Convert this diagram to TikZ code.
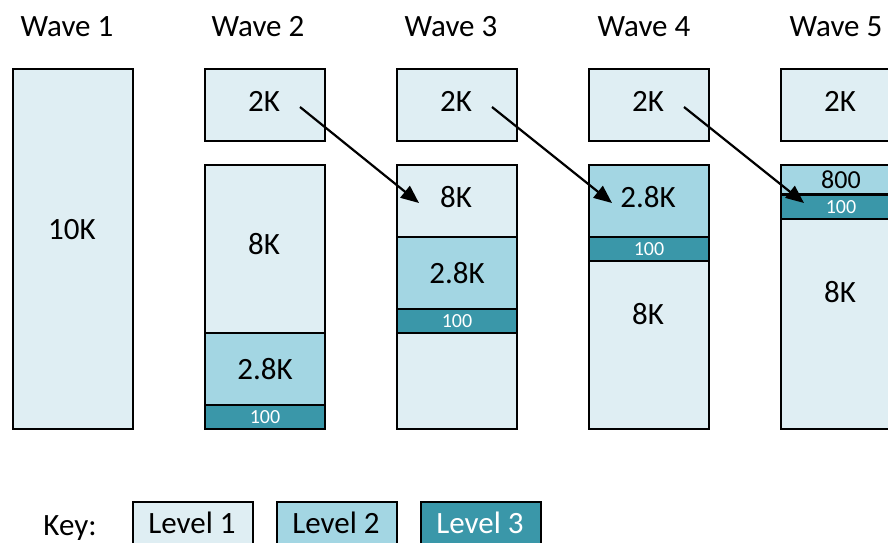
\documentclass[tikz,border=0pt]{standalone}
\usepackage{fontspec}
\setmainfont{Carlito}
\usetikzlibrary{arrows.meta}
\definecolor{lvA}{HTML}{DFEEF3}
\definecolor{lvB}{HTML}{A3D6E3}
\definecolor{lvC}{HTML}{3A97A9}
\begin{document}
\begin{tikzpicture}[x=1pt,y=-1pt,
  cell/.style={draw=black,line width=2pt,rectangle,inner sep=0pt,minimum width=120pt,anchor=north west,font=\fontsize{31}{36}\selectfont},
  big/.style={font=\fontsize{31}{36}\selectfont,inner sep=0pt},
  small/.style={font=\fontsize{20}{24}\selectfont,text=white},
  mid/.style={font=\fontsize{26}{30}\selectfont},
  arr/.style={line width=2.2pt,-{Triangle[length=18pt,width=15pt]}}]
\useasboundingbox (0,0) rectangle (888,542);
% titles
\node[big,anchor=base] (t1) at (67,36) {Wave 1};
\node[big,anchor=base] (t2) at (258,36) {Wave 2};
\node[big,anchor=base] (t3) at (451,36) {Wave 3};
\node[big,anchor=base] (t4) at (644,36) {Wave 4};
\node[big,anchor=base] (t5) at (836,36) {Wave 5};
% wave 1
\node[cell,fill=lvA,minimum height=360pt] (w1) at (12,68) {};
\node[big] (w1l) at (72,230) {10K};
% wave 2
\node[cell,fill=lvA,minimum height=72pt] (w2top) at (204,68) {};
\node[big] (w2topl) at (264,101) {2K};
\node[cell,fill=lvA,minimum height=168pt] (w2a) at (204,164) {};
\node[big] (w2al) at (264,244) {8K};
\node[cell,fill=lvB,minimum height=72pt] (w2b) at (204,332) {2.8K};
\node[cell,fill=lvC,minimum height=24pt,small] (w2c) at (204,404) {100};
% wave 3
\node[cell,fill=lvA,minimum height=72pt] (w3top) at (396,68) {};
\node[big] (w3topl) at (456,101) {2K};
\node[cell,fill=lvA,minimum height=72pt] (w3a) at (396,164) {};
\node[big] (w3al) at (456,197) {8K};
\node[cell,fill=lvB,minimum height=72pt] (w3b) at (396,236) {2.8K};
\node[cell,fill=lvC,minimum height=24pt,small] (w3c) at (396,308) {100};
\node[cell,fill=lvA,minimum height=96pt] (w3d) at (396,332) {};
% wave 4
\node[cell,fill=lvA,minimum height=72pt] (w4top) at (588,68) {};
\node[big] (w4topl) at (648,101) {2K};
\node[cell,fill=lvB,minimum height=72pt] (w4a) at (588,164) {};
\node[big] (w4al) at (648,197) {2.8K};
\node[cell,fill=lvC,minimum height=24pt,small] (w4b) at (588,236) {100};
\node[cell,fill=lvA,minimum height=168pt] (w4c) at (588,260) {};
\node[big] (w4cl) at (648,314) {8K};
% wave 5
\node[cell,fill=lvA,minimum height=72pt] (w5top) at (780,68) {};
\node[big] (w5topl) at (840,101) {2K};
\node[cell,fill=lvB,minimum height=30pt,mid] (w5a) at (780,164) {800};
\node[cell,fill=lvA,minimum height=210pt] (w5c) at (780,218) {};
\node[cell,fill=lvC,minimum height=24pt,small] (w5b) at (780,194) {100};
\draw[line width=3pt] (w5b.north west) -- (w5b.north east);
\node[big] (w5cl) at (840,292) {8K};
% arrows
\coordinate (s1) at (300,107); \coordinate (e1) at (419,203);
\coordinate (s2) at (492,107); \coordinate (e2) at (612,203);
\coordinate (s3) at (684,107); \coordinate (e3) at (804,203);
\draw[arr] (s1) -- (e1);
\draw[arr] (s2) -- (e2);
\draw[arr] (s3) -- (e3);
% key
\node[big,anchor=base] (key) at (70,535) {Key:};
\node[cell,fill=lvA,minimum height=48pt] (k1) at (132,501) {};
\node[big] (k1l) at (192,523) {Level 1};
\node[cell,fill=lvB,minimum height=48pt] (k2) at (276,501) {};
\node[big] (k2l) at (336,523) {Level 2};
\node[cell,fill=lvC,minimum height=48pt] (k3) at (420,501) {};
\node[big,text=white] (k3l) at (480,523) {Level 3};
\end{tikzpicture}
\end{document}
